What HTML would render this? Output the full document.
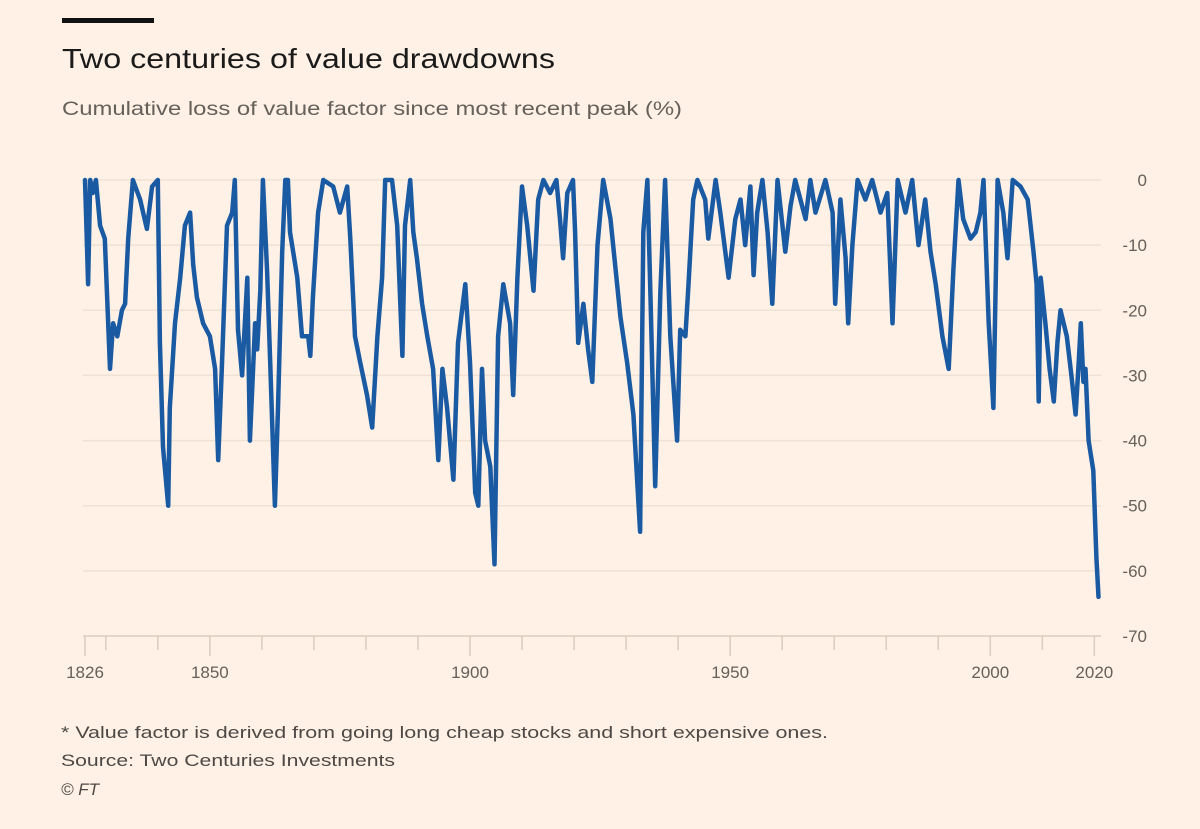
<!DOCTYPE html>
<html><head><meta charset="utf-8"><style>
html,body{margin:0;padding:0;background:#FFF1E5;}
svg{display:block;font-family:"Liberation Sans",sans-serif;}
</style></head><body>
<svg id="chart" width="1200" height="829" viewBox="0 0 1200 829">
<rect width="1200" height="829" fill="#FFF1E5"/>
<rect x="62" y="18" width="92" height="5" fill="#111"/>
<text x="62" y="68" font-size="28" fill="#1a1a1a" textLength="493" lengthAdjust="spacingAndGlyphs">Two centuries of value drawdowns</text>
<text x="62" y="115" font-size="19" fill="#66605a" textLength="620" lengthAdjust="spacingAndGlyphs">Cumulative loss of value factor since most recent peak (%)</text>
<g id="grid"></g>
<g id="xaxis"></g>
<g id="series"></g>
<text x="61" y="738" font-size="17" fill="#4d4845" textLength="767" lengthAdjust="spacingAndGlyphs">* Value factor is derived from going long cheap stocks and short expensive ones.</text>
<text x="61" y="766" font-size="17" fill="#4d4845" textLength="334" lengthAdjust="spacingAndGlyphs">Source: Two Centuries Investments</text>
<text x="61" y="795" font-size="17" font-style="italic" fill="#4d4845">© FT</text>
</svg>
<script>
const yTicks = [0,-10,-20,-30,-40,-50,-60,-70];
const xTicks = [1826,1830,1840,1850,1860,1870,1880,1890,1900,1910,1920,1930,1940,1950,1960,1970,1980,1990,2000,2010,2020];
const xLabels = [1826,1850,1900,1950,2000,2020];
const years = [1826.0,1826.2,1826.6,1827.0,1827.5,1828.1,1828.9,1829.8,1830.8,1831.4,1832.2,1833.1,1833.7,1834.3,1835.2,1836.6,1837.9,1838.9,1840.0,1840.4,1841.0,1842.0,1842.3,1843.3,1844.3,1845.2,1846.2,1846.8,1847.5,1848.7,1850.0,1851.0,1851.6,1852.3,1853.3,1854.3,1854.8,1855.4,1856.2,1857.2,1857.7,1858.7,1859.1,1859.7,1860.2,1861.0,1861.6,1862.5,1863.1,1863.9,1864.5,1865.0,1865.4,1866.8,1867.7,1868.9,1869.3,1869.8,1870.8,1871.8,1873.7,1875.0,1876.4,1877.0,1877.9,1878.9,1880.2,1881.2,1882.2,1883.1,1883.7,1885.0,1886.0,1887.0,1887.5,1888.5,1889.1,1889.8,1890.8,1891.8,1892.9,1893.9,1894.7,1895.6,1896.8,1897.7,1899.1,1900.0,1901.0,1901.6,1902.3,1902.9,1903.9,1904.7,1905.4,1906.4,1907.7,1908.3,1909.1,1910.0,1911.0,1912.2,1913.1,1914.1,1915.4,1916.6,1917.3,1917.9,1918.7,1919.8,1920.2,1920.8,1921.8,1922.7,1923.5,1924.5,1925.6,1927.0,1928.9,1930.2,1931.4,1932.7,1933.3,1934.1,1934.7,1935.6,1936.6,1937.5,1938.5,1939.8,1940.4,1941.4,1942.0,1942.9,1943.7,1945.2,1945.8,1947.2,1948.1,1949.7,1951.0,1952.0,1952.9,1953.9,1954.5,1955.2,1956.2,1957.2,1958.1,1959.1,1960.6,1961.6,1962.5,1964.5,1965.4,1966.4,1968.3,1969.7,1970.2,1971.2,1972.2,1972.7,1973.5,1974.5,1976.0,1977.3,1978.9,1980.2,1981.2,1982.2,1983.7,1985.0,1986.2,1987.5,1988.5,1989.5,1990.8,1992.0,1992.9,1993.9,1994.8,1996.2,1997.2,1998.1,1998.7,1999.7,2000.6,2001.4,2002.5,2003.3,2004.3,2005.8,2007.2,2008.3,2008.9,2009.3,2009.7,2010.6,2011.4,2012.2,2012.9,2013.5,2014.7,2015.6,2016.4,2017.0,2017.4,2017.9,2018.3,2018.9,2019.8,2020.4,2020.8];
const drawdown = [0,-5,-16,0,-2,0,-7,-9,-29,-22,-24,-20,-19,-9,0,-3,-7.5,-1,0,-25,-41,-50,-35,-22,-15,-7,-5,-13,-18,-22,-24,-29,-43,-29,-7,-5,0,-23,-30,-15,-40,-22,-26,-17,0,-14,-28,-50,-35,-11,0,0,-8,-15,-24,-24,-27,-18,-5,0,-1,-5,-1,-9,-24,-28,-33,-38,-24,-15,0,0,-7,-27,-7,0,-8,-12,-19,-24,-29,-43,-29,-35,-46,-25,-16,-28,-48,-50,-29,-40,-44,-59,-24,-16,-22,-33,-15,-1,-7,-17,-3,0,-2,0,-6,-12,-2,0,-8,-25,-19,-26,-31,-10,0,-6,-21,-28,-36,-54,-8,0,-18,-47,-17,0,-24,-40,-23,-24,-16,-3,0,-3,-9,0,-5,-15,-6,-3,-10,-1,-14.6,-5,0,-8,-19,0,-11,-4,0,-6,0,-5,0,-5,-19,-3,-12,-22,-10,0,-3,0,-5,-2,-22,0,-5,0,-10,-3,-11,-16,-24,-29,-14,0,-6,-9,-8,-5,0,-22,-35,0,-5,-12,0,-1,-3,-11,-16,-34,-15,-22,-29,-34,-25,-20,-24,-30,-36,-28,-22,-31,-29,-40,-44.6,-58,-64];

const NS = 'http://www.w3.org/2000/svg';
const X0 = 85, X1 = 1098.5, Y0 = 180, Y1 = 636;
function xScale(yr){ return X0 + (yr - 1826) * (X1 - X0) / (2020.8 - 1826); }
function yScale(v){ return Y0 + (0 - v) * (Y1 - Y0) / 70; }
function mk(tag, attrs){ const e = document.createElementNS(NS, tag); for (const k in attrs) e.setAttribute(k, attrs[k]); return e; }

const grid = document.getElementById('grid');
yTicks.forEach(v => {
  const y = yScale(v);
  const gl = mk('line', {x1: 83, x2: 1101, y1: y, y2: y, stroke: v === -70 ? '#d9cdbf' : '#efe2d4', 'stroke-width': 1.5});
  
  
  grid.appendChild(gl);
  const t = mk('text', {x: 1147, y: y + 6, 'text-anchor': 'end', 'font-size': 17, fill: '#66605a'});
  t.textContent = v === 0 ? '0' : '-' + Math.abs(v);
  
  
  grid.appendChild(t);
});

const xa = document.getElementById('xaxis');
xTicks.forEach(yr => {
  const x = xScale(yr);
  const major = xLabels.indexOf(yr) >= 0;
  const tk = mk('line', {x1: x, x2: x, y1: Y1, y2: Y1 + (major ? 20 : 14), stroke: '#d9cdbf', 'stroke-width': 1.5});
  
  
  xa.appendChild(tk);
});
xLabels.forEach(yr => {
  const t = mk('text', {x: xScale(yr), y: 678, 'text-anchor': 'middle', 'font-size': 17, fill: '#66605a'});
  t.textContent = yr;
  
  
  xa.appendChild(t);
});

const series = document.getElementById('series');
let d = '';
years.forEach((yr, i) => { d += (i ? 'L' : 'M') + xScale(yr).toFixed(1) + ',' + yScale(drawdown[i]).toFixed(1); });
const path = mk('path', {d: d, fill: 'none', stroke: '#1a5aa3', 'stroke-width': 4.5, 'stroke-linejoin': 'round', 'stroke-linecap': 'round'});


series.appendChild(path);
</script>
</body></html>
